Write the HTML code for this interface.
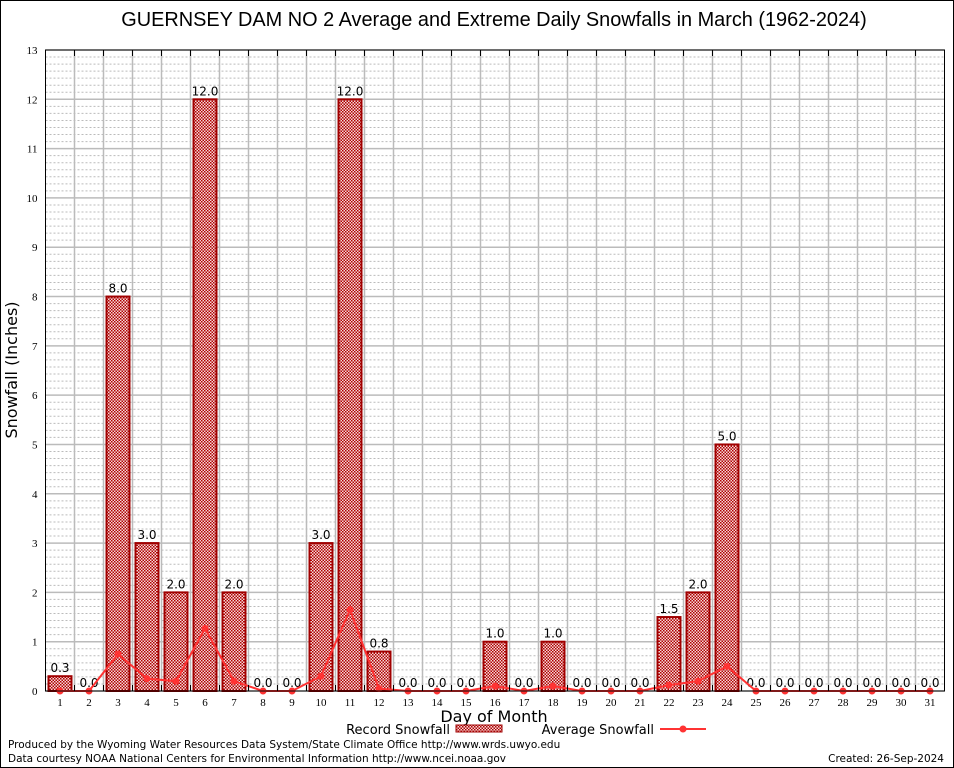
<!DOCTYPE html>
<html><head><meta charset="utf-8"><style>
body{margin:0;background:#fff;}
svg{display:block;font-family:"DejaVu Sans","Liberation Sans",sans-serif;}
</style></head><body>
<svg id="c" width="954" height="768">
<defs><pattern id="hatch" width="3" height="3" patternUnits="userSpaceOnUse"><rect width="3" height="3" fill="#f4dada"/><rect width="1.5" height="1.5" fill="#b00000"/><rect x="1.5" y="1.5" width="1.5" height="1.5" fill="#b00000"/></pattern></defs>
<rect x="0.5" y="0.5" width="953" height="767" fill="#fff" stroke="#000"/>
<text x="494" y="26" text-anchor="middle" font-size="19.9" font-family="Liberation Sans, sans-serif">GUERNSEY DAM NO 2 Average and Extreme Daily Snowfalls in March (1962-2024)</text>
<g id="grid"></g><g id="bars"></g><g id="line"></g><g id="axes"></g>
<text transform="translate(17,370) rotate(-90)" text-anchor="middle" font-size="16">Snowfall (Inches)</text>
<text x="494" y="722" text-anchor="middle" font-size="16">Day of Month</text>
<g><text x="450" y="734" text-anchor="end" font-size="13">Record Snowfall</text><rect x="456" y="725" width="46" height="7" fill="url(#hatch)" stroke="#a00000"/></g>
<g><text x="654" y="734" text-anchor="end" font-size="13">Average Snowfall</text><line x1="660" y1="729" x2="706" y2="729" stroke="#f33" stroke-width="2"/><circle cx="683" cy="729" r="3.5" fill="#f33"/></g>
<text x="8" y="748" font-size="10.5">Produced by the Wyoming Water Resources Data System/State Climate Office http://www.wrds.uwyo.edu</text>
<text x="8" y="762" font-size="10.5">Data courtesy NOAA National Centers for Environmental Information http://www.ncei.noaa.gov</text>
<text x="944" y="762" text-anchor="end" font-size="10.5">Created:  26-Sep-2024</text>
</svg>
<script>
const days=[1,2,3,4,5,6,7,8,9,10,11,12,13,14,15,16,17,18,19,20,21,22,23,24,25,26,27,28,29,30,31];
const records=[0.3,0,8,3,2,12,2,0,0,3,12,0.8,0,0,0,1,0,1,0,0,0,1.5,2,5,0,0,0,0,0,0,0];
const averages=[0,0,0.75,0.25,0.2,1.27,0.2,0,0,0.3,1.65,0.05,0,0,0,0.1,0,0.1,0,0,0,0.12,0.2,0.5,0,0,0,0,0,0,0];
const yTicks=[0,1,2,3,4,5,6,7,8,9,10,11,12,13];
const NS="http://www.w3.org/2000/svg";
const L=45.5,R=944.5,T=50,B=691,YMAX=13;
const slot=(R-L)/days.length;
const X=d=>L+(d-0.5)*slot;
const Y=v=>B-v/YMAX*(B-T);
function mk(t,a,p){const e=document.createElementNS(NS,t);for(const k in a)e.setAttribute(k,a[k]);p.appendChild(e);return e;}
const g=document.getElementById('grid'),gb=document.getElementById('bars'),gl=document.getElementById('line'),ga=document.getElementById('axes');
for(let v=0;v<YMAX;v++)for(let s=1;s<7;s++){const y=Y(v+s/7);const e=mk('line',{x1:L,x2:R,y1:y,y2:y,stroke:'#bbb','stroke-dasharray':'2,2','stroke-width':1},g);

}
yTicks.forEach(v=>{const y=Y(v);const e=mk('line',{x1:L,x2:R,y1:y,y2:y,stroke:'#bbb','stroke-width':1.5},g);


const t=mk('text',{x:L-8,y:y+4,'text-anchor':'end','font-size':11,'font-family':'Liberation Serif, serif'},ga);t.textContent=v;

});
for(let i=1;i<days.length;i++){const x=L+i*slot;const e=mk('line',{x1:x,x2:x,y1:T,y2:B,stroke:'#bbb','stroke-width':1.5},g);


mk('line',{x1:x,x2:x,y1:T,y2:T+6,stroke:'#000'},ga);mk('line',{x1:x,x2:x,y1:B,y2:B-6,stroke:'#000'},ga);}
days.forEach((d,i)=>{const v=records[i];const x=X(d);
if(v>0){const r=mk('rect',{x:x-11.5,y:Y(v),width:23,height:B-Y(v),fill:'url(#hatch)',stroke:'#a00000','stroke-width':2},gb);

}
const t=mk('text',{x:x,y:Y(v)-4,'text-anchor':'middle','font-size':12},gb);t.textContent=v.toFixed(1);


const xl=mk('text',{x:x,y:B+15,'text-anchor':'middle','font-size':11,'font-family':'Liberation Serif, serif'},ga);xl.textContent=d;

});
const pl=mk('polyline',{points:days.map((d,i)=>X(d)+','+Y(averages[i])).join(' '),fill:'none',stroke:'#f33','stroke-width':2},gl);


days.forEach((d,i)=>{const c=mk('circle',{cx:X(d),cy:Y(averages[i]),r:3.5,fill:'#f33'},gl);

});
const fr=mk('rect',{x:L,y:T,width:R-L,height:B-T,fill:'none',stroke:'#000','stroke-width':1},ga);


</script>
</body></html>
